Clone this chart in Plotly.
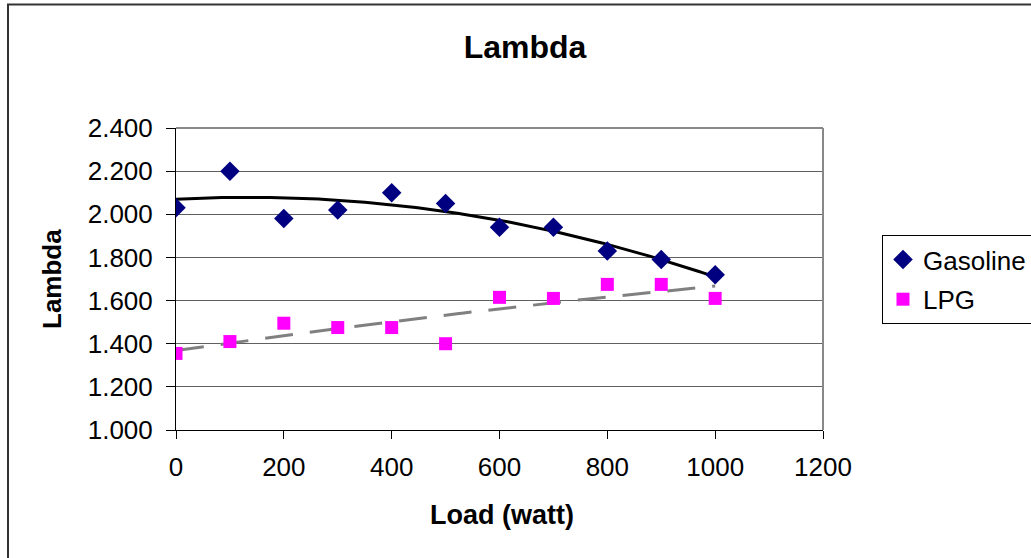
import numpy as np
import plotly.graph_objects as go

# ---- data ----
load = [0, 100, 200, 300, 400, 500, 600, 700, 800, 900, 1000]
gasoline = [2.03, 2.20, 1.98, 2.02, 2.10, 2.05, 1.94, 1.94, 1.83, 1.79, 1.72]
lpg = [1.355, 1.41, 1.495, 1.475, 1.475, 1.40, 1.615, 1.61, 1.675, 1.675, 1.61]
y_ticks = [1.0, 1.2, 1.4, 1.6, 1.8, 2.0, 2.2, 2.4]
x_ticks = [0, 200, 400, 600, 800, 1000, 1200]

# trendlines (polynomial fits of the data, as in the original chart)
xt = np.linspace(0, 1000, 201)
gas_fit = np.polyval(np.polyfit(load, gasoline, 2), xt)
lpg_fit = np.polyval(np.polyfit(load, lpg, 2), xt)

W, H = 1031, 558
L, R, T, B = 176, 823, 128, 430
pw, ph = R - L, B - T


def px(x):
    return (x - L) / pw


def py(y):
    return (B - y) / ph


FONT = "Liberation Sans, Arial, sans-serif"

fig = go.Figure()
fig.add_trace(go.Scatter(x=xt, y=gas_fit, mode="lines", line=dict(color="black", width=3),
                         showlegend=False, hoverinfo="skip"))
fig.add_trace(go.Scatter(x=xt, y=lpg_fit, mode="lines",
                         line=dict(color="#808080", width=3, dash="28px,17px"),
                         showlegend=False, hoverinfo="skip"))
fig.add_trace(go.Scatter(x=load, y=gasoline, mode="markers", name="Gasoline", legendgroup="g",
                         marker=dict(symbol="diamond", size=15, color="#000080")))
fig.add_trace(go.Scatter(x=load, y=lpg, mode="markers", name="LPG", legendgroup="l",
                         marker=dict(symbol="square", size=13, color="#FF00FF")))

fig.update_layout(
    width=W, height=H,
    margin=dict(l=L, r=W - R, t=T, b=H - B, autoexpand=False),
    paper_bgcolor="white", plot_bgcolor="white",
    font=dict(family=FONT, color="black"),
    title=dict(text="<b>Lambda</b>", x=525 / W, xref="container", xanchor="center",
               y=1 - 47 / H, yref="container", yanchor="middle",
               font=dict(size=32, family=FONT, color="black")),
    showlegend=True,
    legend=dict(x=882 / W, y=1 - 235 / H, xref="container", yref="container",
                xanchor="left", yanchor="top",
                bordercolor="black", borderwidth=1, bgcolor="white",
                font=dict(size=26, family=FONT, color="black"),
                tracegroupgap=3),
)

fig.update_xaxes(range=[0, 1200], tickvals=x_ticks, ticktext=[str(v) for v in x_ticks],
                 showgrid=False, zeroline=False,
                 showline=True, linecolor="black", linewidth=1,
                 ticks="outside", ticklen=8, tickcolor="black", tickwidth=1,
                 ticklabelstandoff=6,
                 tickfont=dict(size=26, family=FONT, color="black"))
fig.update_yaxes(range=[1.0, 2.4], tickvals=y_ticks, ticktext=[f"{v:.3f}" for v in y_ticks],
                 showgrid=True, gridcolor="#606060", gridwidth=1, zeroline=False,
                 showline=True, linecolor="black", linewidth=1,
                 ticks="outside", ticklen=9, tickcolor="black", tickwidth=1,
                 ticklabelstandoff=8,
                 tickfont=dict(size=26, family=FONT, color="black"))

# plot-area border (top/right in grey)
fig.add_shape(type="line", xref="paper", yref="paper", x0=0, x1=1, y0=1, y1=1,
              line=dict(color="#888888", width=2), layer="above")
fig.add_shape(type="line", xref="paper", yref="paper", x0=1, x1=1, y0=0, y1=1,
              line=dict(color="#888888", width=2), layer="above")
# outer chart border
fig.add_shape(type="rect", xref="paper", yref="paper",
              x0=px(8), x1=px(1045), y0=py(575), y1=py(4.5),
              line=dict(color="#333333", width=2), layer="below")

# axis titles
fig.add_annotation(text="<b>Load (watt)</b>", xref="paper", yref="paper",
                   x=px(502), y=py(515), xanchor="center", yanchor="middle",
                   showarrow=False, font=dict(size=27, family=FONT, color="black"))
fig.add_annotation(text="<b>Lambda</b>", xref="paper", yref="paper",
                   x=px(52), y=py(279), xanchor="center", yanchor="middle", textangle=-90,
                   showarrow=False, font=dict(size=26, family=FONT, color="black"))

fig.write_html("out.html")
